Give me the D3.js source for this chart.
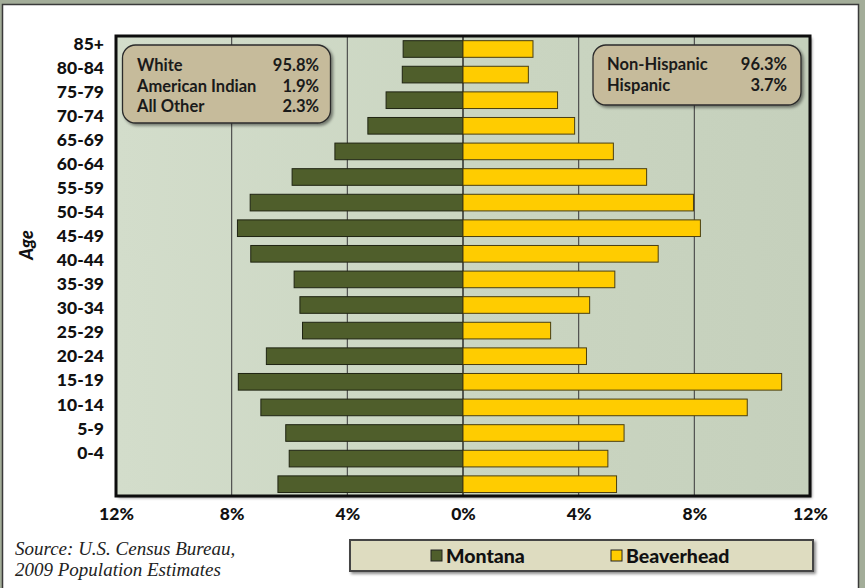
<!DOCTYPE html>
<html><head><meta charset="utf-8">
<script src="https://cdn.jsdelivr.net/npm/d3@7"></script>
<style>body{margin:0;background:#a3ad99;} svg{display:block;}</style>
</head><body>
<svg id="c" width="865" height="588"></svg>
<script>
const ages = ["85+","80-84","75-79","70-74","65-69","60-64","55-59","50-54","45-49","40-44","35-39","30-34","25-29","20-24","15-19","10-14","5-9","0-4"];
const montana = [2.07,2.10,2.66,3.29,4.43,5.91,7.36,7.80,7.34,5.84,5.64,5.55,6.80,7.77,6.99,6.13,6.01,6.40];
const beaverhead = [2.42,2.26,3.27,3.86,5.20,6.35,7.97,8.21,6.75,5.25,4.38,3.03,4.27,11.02,9.83,5.57,5.01,5.31];
const xTicks = [-12,-8,-4,0,4,8,12];
const raceLabels = ["White","American Indian","All Other"];
const raceValues = ["95.8%","1.9%","2.3%"];
const ethLabels = ["Non-Hispanic","Hispanic"];
const ethValues = ["96.3%","3.7%"];
const seriesNames = ["Montana","Beaverhead"];
const seriesColors = ["#4f5e2b","#ffcc00"];

const svg = d3.select("#c");
const F = "Lato, 'Open Sans', sans-serif";

const defs = svg.append("defs");
const sh = defs.append("filter").attr("id","sh").attr("x","-10%").attr("y","-10%").attr("width","130%").attr("height","140%");
sh.append("feDropShadow").attr("dx",2).attr("dy",2).attr("stdDeviation",1.5).attr("flood-color","#000").attr("flood-opacity",0.45);
const bg = defs.append("linearGradient").attr("id","bg").attr("x1",0).attr("x2",1).attr("y1",0).attr("y2",0);
bg.append("stop").attr("offset","0").attr("stop-color","#d3ddcb");
bg.append("stop").attr("offset","0.5").attr("stop-color","#cbd6c2");
bg.append("stop").attr("offset","1").attr("stop-color","#c5d0bc");

// outer panel
svg.append("rect").attr("x",2.5).attr("y",4.5).attr("width",856).attr("height",590)
  .attr("fill","#fff").attr("stroke","#3a3a3a").attr("stroke-width",1.5);

const x = d3.scaleLinear().domain([-12,12]).range([116,810]);
const y = d3.scaleBand().domain(ages).range([36.2,497]).paddingInner(0.35).paddingOuter(0.175);
const yl = d3.scalePoint().domain(ages).range([43,452]);

const pTop = 36, pBot = 496;
// plot background
svg.append("rect").attr("x",x(-12)).attr("y",pTop).attr("width",x(12)-x(-12)).attr("height",pBot-pTop)
  .attr("fill","url(#bg)").attr("filter","url(#sh)");

// gridlines
svg.append("g").selectAll("line").data(xTicks.filter(t=>Math.abs(t)<12)).join("line")
  .attr("x1",d=>x(d)).attr("x2",d=>x(d)).attr("y1",pTop).attr("y2",pBot)
  .attr("stroke",d=>d===0?"#222":"#444").attr("stroke-width",d=>d===0?1.4:1.1);

// bars
const g = svg.append("g");
g.selectAll(".m").data(ages).join("rect").attr("class","m")
  .attr("x",(d,i)=>x(-montana[i])).attr("y",d=>y(d))
  .attr("width",(d,i)=>x(0)-x(-montana[i])).attr("height",y.bandwidth())
  .attr("fill",seriesColors[0]).attr("stroke","#1f2412").attr("stroke-width",1);
g.selectAll(".b").data(ages).join("rect").attr("class","b")
  .attr("x",x(0)).attr("y",d=>y(d))
  .attr("width",(d,i)=>x(beaverhead[i])-x(0)).attr("height",y.bandwidth())
  .attr("fill",seriesColors[1]).attr("stroke","#4a3f10").attr("stroke-width",1);

// plot border
svg.append("rect").attr("x",x(-12)).attr("y",pTop).attr("width",x(12)-x(-12)).attr("height",pBot-pTop)
  .attr("fill","none").attr("stroke","#0d0d0d").attr("stroke-width",3);

// y axis labels (as placed in original)
const ya = svg.append("g").attr("transform","translate(104,0)")
  .call(d3.axisLeft(yl).tickSize(0).tickPadding(0));
ya.select(".domain").remove();
ya.selectAll("text").attr("font-family",F).attr("font-weight",900).attr("font-size",17.5).attr("fill","#111").attr("dy","0.35em");

// x axis labels
const xa = svg.append("g").attr("transform",`translate(0,${pBot})`)
  .call(d3.axisBottom(x).tickValues(xTicks).tickSize(0).tickPadding(12).tickFormat(d=>Math.abs(d)+"%"));
xa.select(".domain").remove();
xa.selectAll("text").attr("font-family",F).attr("font-weight",900).attr("font-size",17.5).attr("fill","#111");

// Age title
svg.append("text").attr("transform","translate(33,245) rotate(-90)").attr("text-anchor","middle")
  .attr("font-family",F).attr("font-weight",900).attr("font-style","italic").attr("font-size",18).attr("fill","#111").text("Age");

// info boxes
function box(x0,y0,w,h,labels,vals,rowH,firstY,lx,rx){
  svg.append("rect").attr("x",x0).attr("y",y0).attr("width",w).attr("height",h).attr("rx",13)
    .attr("fill","#c6bb9b").attr("stroke","#2b2b2b").attr("stroke-width",1.3).attr("filter","url(#sh)");
  const t = svg.append("g");
  t.selectAll(".l").data(labels).join("text").attr("x",lx).attr("y",(d,i)=>firstY+i*rowH).attr("dy","0.35em")
    .attr("font-family",F).attr("font-weight","bold").attr("font-size",16.5).attr("fill","#1a1a1a").text(d=>d);
  t.selectAll(".v").data(vals).join("text").attr("x",rx).attr("y",(d,i)=>firstY+i*rowH).attr("dy","0.35em")
    .attr("text-anchor","end").attr("font-family",F).attr("font-weight","bold").attr("font-size",16.5).attr("fill","#1a1a1a").text(d=>d);
}
box(122.5,45,208,78,raceLabels,raceValues,20.5,65.5,137,319);
box(593,45,208,60,ethLabels,ethValues,20.5,64.5,607,787);

// source
svg.append("text").attr("x",15).attr("y",555).attr("font-family","'Liberation Serif', serif").attr("font-style","italic")
  .attr("font-size",19).attr("fill","#222").text("Source: U.S. Census Bureau,");
svg.append("text").attr("x",15).attr("y",576).attr("font-family","'Liberation Serif', serif").attr("font-style","italic")
  .attr("font-size",19).attr("fill","#222").text("2009 Population Estimates");

// legend
svg.append("rect").attr("x",350).attr("y",540).attr("width",463).attr("height",31)
  .attr("fill","#dedcc0").attr("stroke","#444").attr("stroke-width",2).attr("filter","url(#sh)");
const lg = svg.append("g");
const lx = [431,611];
lg.selectAll("rect").data(seriesNames).join("rect").attr("x",(d,i)=>lx[i]).attr("y",550).attr("width",11).attr("height",11)
  .attr("fill",(d,i)=>seriesColors[i]).attr("stroke","#222").attr("stroke-width",1);
lg.selectAll("text").data(seriesNames).join("text").attr("x",(d,i)=>lx[i]+15).attr("y",556).attr("dy","0.35em")
  .attr("font-family",F).attr("font-weight",900).attr("font-size",19.5).attr("fill","#111").text(d=>d);
</script>
</body></html>
